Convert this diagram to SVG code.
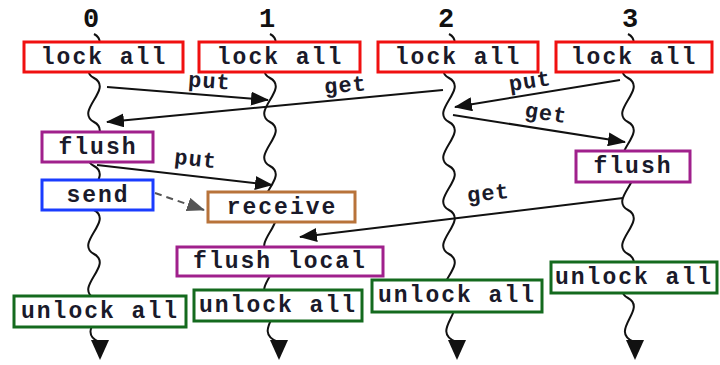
<svg xmlns="http://www.w3.org/2000/svg" width="720" height="365" viewBox="0 0 720 365">
<defs>
<marker id="ah" markerUnits="userSpaceOnUse" markerWidth="18" markerHeight="14" refX="17" refY="7" orient="auto"><path d="M0,0 L18,7 L0,14 Z" fill="#111"/></marker>
<marker id="ahg" markerUnits="userSpaceOnUse" markerWidth="18" markerHeight="14" refX="17" refY="7" orient="auto"><path d="M0,0 L18,7 L0,14 Z" fill="#555"/></marker>
<style>
.t{font-family:"Liberation Mono","DejaVu Sans Mono",monospace;font-weight:bold;font-size:23px;letter-spacing:2px;fill:#1a1a2a;text-anchor:middle}
.n{font-family:"Liberation Mono","DejaVu Sans Mono",monospace;font-weight:bold;font-size:27px;fill:#111;text-anchor:middle}
.l{font-family:"Liberation Mono","DejaVu Sans Mono",monospace;font-weight:bold;font-size:22px;letter-spacing:1px;fill:#1a1a2a;text-anchor:middle}
.life{fill:none;stroke:#111;stroke-width:2}
.b{fill:#fff;stroke-width:3}
.red{stroke:#f01010}.pur{stroke:#a0208c}.blu{stroke:#1a3cff}.brn{stroke:#b8733a}.grn{stroke:#146a1e}
.msg{stroke:#111;stroke-width:2;fill:none;marker-end:url(#ah)}
.dash{stroke:#555;stroke-width:2;fill:none;stroke-dasharray:7,5;marker-end:url(#ahg)}
</style>
</defs>
<rect width="720" height="365" fill="#fff"/>
<g id="lifelines">
<path class="life" d="M94,34 c20,11 -20,33 0,44 s-20,33 0,44 s-20,33 0,44 s-20,33 0,44 s-20,33 0,44 s-20,33 0,44 s-20,33 5,44"/>
<polygon points="91,340 109,340 100,360" fill="#111"/>
<path class="life" d="M270,34 c20,11 -20,33 0,44 s-20,33 0,44 s-20,33 0,44 s-20,33 0,44 s-20,33 0,44 s-20,33 0,44 s-20,33 8,44"/>
<polygon points="270,340 288,340 279,360" fill="#111"/>
<path class="life" d="M449,34 c20,11 -20,33 0,44 s-20,33 0,44 s-20,33 0,44 s-20,33 0,44 s-20,33 0,44 s-20,33 0,44 s-20,33 7,44"/>
<polygon points="448,340 466,340 457,360" fill="#111"/>
<path class="life" d="M628,34 c20,11 -20,33 0,44 s-20,33 0,44 s-20,33 0,44 s-20,33 0,44 s-20,33 0,44 s-20,33 0,44 s-20,33 6,44"/>
<polygon points="626,340 644,340 635,360" fill="#111"/>
</g>
<g id="labels">
<text class="n" x="91" y="27">0</text>
<text class="n" x="267" y="27">1</text>
<text class="n" x="446" y="27">2</text>
<text class="n" x="630" y="27">3</text>
</g>
<g id="connectors">
<path class="msg" d="M107,87 L268,100"/>
<path class="msg" d="M443,90 L107,122"/>
<path class="msg" d="M620,80 L455,107"/>
<path class="msg" d="M453,115 L625,142"/>
<path class="msg" d="M97,165 L272,185"/>
<path class="dash" d="M155,193 L204,210"/>
<path class="msg" d="M623,198 L300,237"/>
<text class="l" x="209" y="88" transform="rotate(4 209 88)">put</text>
<text class="l" x="346" y="92" transform="rotate(-5 346 92)">get</text>
<text class="l" x="531" y="88" transform="rotate(-9 531 88)">put</text>
<text class="l" x="545" y="120" transform="rotate(9 545 120)">get</text>
<text class="l" x="195" y="166" transform="rotate(6 195 166)">put</text>
<text class="l" x="489" y="200" transform="rotate(-6 489 200)">get</text>
</g>
<g id="lock0"><rect class="b red" x="24" y="42" width="159" height="30"/><text class="t" x="104" y="64">lock all</text></g>
<g id="lock1"><rect class="b red" x="199" y="42" width="161" height="30"/><text class="t" x="280" y="64">lock all</text></g>
<g id="lock2"><rect class="b red" x="378" y="42" width="160" height="30"/><text class="t" x="458" y="64">lock all</text></g>
<g id="lock3"><rect class="b red" x="556" y="42" width="156" height="30"/><text class="t" x="634" y="64">lock all</text></g>
<g id="flush0"><rect class="b pur" x="42" y="132" width="111" height="30"/><text class="t" x="98" y="154">flush</text></g>
<g id="send0"><rect class="b blu" x="42" y="180" width="111" height="30"/><text class="t" x="98" y="202">send</text></g>
<g id="receive1"><rect class="b brn" x="208" y="192" width="147" height="30"/><text class="t" x="282" y="214">receive</text></g>
<g id="flush3"><rect class="b pur" x="576" y="151" width="114" height="31"/><text class="t" x="633" y="173">flush</text></g>
<g id="flushlocal1"><rect class="b pur" x="177" y="247" width="206" height="29"/><text class="t" x="280" y="268">flush local</text></g>
<g id="unlock0"><rect class="b grn" x="14" y="296" width="172" height="31"/><text class="t" x="100" y="318">unlock all</text></g>
<g id="unlock1"><rect class="b grn" x="194" y="290" width="168" height="31"/><text class="t" x="278" y="312">unlock all</text></g>
<g id="unlock2"><rect class="b grn" x="372" y="280" width="170" height="32"/><text class="t" x="457" y="302">unlock all</text></g>
<g id="unlock3"><rect class="b grn" x="551" y="262" width="166" height="31"/><text class="t" x="634" y="284">unlock all</text></g>
</svg>
